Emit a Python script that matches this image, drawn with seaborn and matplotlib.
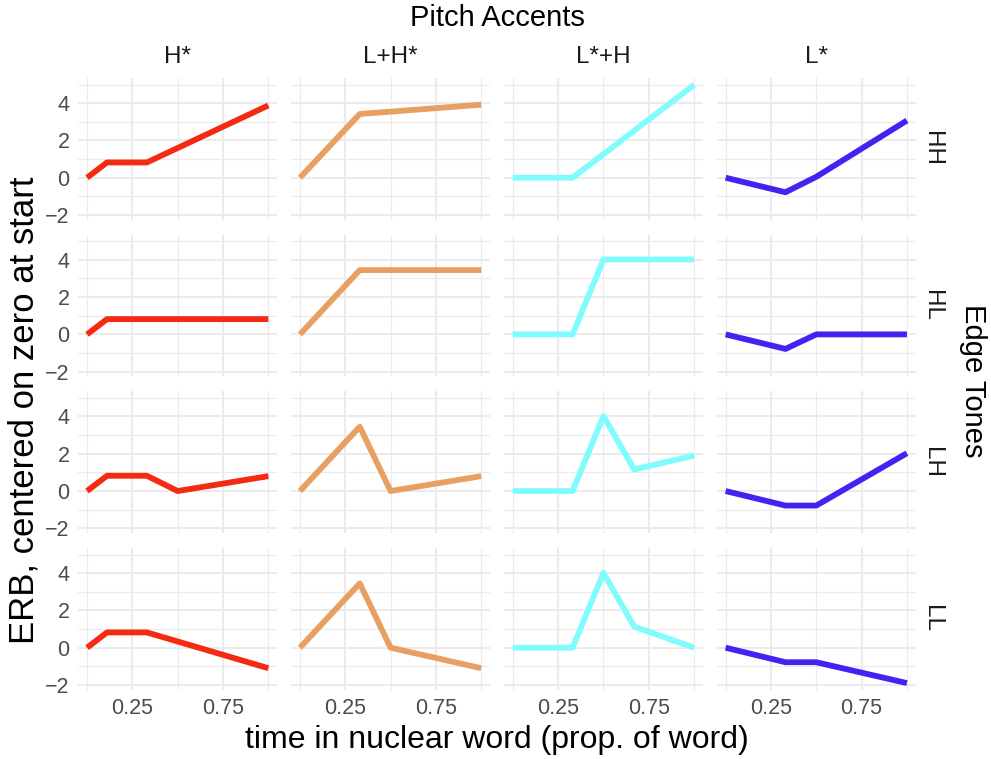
import numpy as np
import pandas as pd
import matplotlib
matplotlib.use("Agg")
import matplotlib.pyplot as plt
from matplotlib.ticker import FixedLocator
import seaborn as sns

# ---------------- data ----------------
accents = ["H*", "L+H*", "L*+H", "L*"]
edges = ["HH", "HL", "LH", "LL"]
accent_colors = ["#F52A12", "#E8A062", "#80FCFF", "#4622F2"]

x_labels = ["0.25", "0.75"]
x_major = [0.25, 0.75]
y_major = [-2, 0, 2, 4]

# time points and ERB values, per accent and edge tone
hstar_x = {"HH": [0.0, 0.11, 0.33, 1.0],
           "HL": [0.0, 0.11, 0.33, 1.0],
           "LH": [0.0, 0.11, 0.33, 0.5, 1.0],
           "LL": [0.0, 0.11, 0.33, 1.0]}
hstar_y = {"HH": [0.0, 0.82, 0.82, 3.88],
           "HL": [0.0, 0.82, 0.82, 0.82],
           "LH": [0.0, 0.82, 0.82, 0.0, 0.8],
           "LL": [0.0, 0.82, 0.82, -1.1]}

lhstar_x = {"HH": [0.0, 0.33, 1.0],
            "HL": [0.0, 0.33, 1.0],
            "LH": [0.0, 0.33, 0.5, 1.0],
            "LL": [0.0, 0.33, 0.5, 1.0]}
lhstar_y = {"HH": [0.0, 3.42, 3.92],
            "HL": [0.0, 3.45, 3.45],
            "LH": [0.0, 3.45, 0.0, 0.8],
            "LL": [0.0, 3.45, 0.0, -1.1]}

lstarh_x = {"HH": [0.0, 0.33, 1.0],
            "HL": [0.0, 0.33, 0.5, 1.0],
            "LH": [0.0, 0.33, 0.5, 0.67, 1.0],
            "LL": [0.0, 0.33, 0.5, 0.67, 1.0]}
lstarh_y = {"HH": [0.0, 0.0, 4.98],
            "HL": [0.0, 0.0, 4.02, 4.02],
            "LH": [0.0, 0.0, 4.02, 1.16, 1.9],
            "LL": [0.0, 0.0, 4.02, 1.13, 0.0]}

lstar_x = {"HH": [0.0, 0.33, 0.5, 1.0],
           "HL": [0.0, 0.33, 0.5, 1.0],
           "LH": [0.0, 0.33, 0.5, 1.0],
           "LL": [0.0, 0.33, 0.5, 1.0]}
lstar_y = {"HH": [0.0, -0.78, 0.05, 3.07],
           "HL": [0.0, -0.78, 0.0, 0.0],
           "LH": [0.0, -0.78, -0.78, 2.03],
           "LL": [0.0, -0.78, -0.78, -1.9]}

series_x = [hstar_x, lhstar_x, lstarh_x, lstar_x]
series_y = [hstar_y, lhstar_y, lstarh_y, lstar_y]

rows = []
for acc, xs, ys in zip(accents, series_x, series_y):
    for e in edges:
        for i, (xv, yv) in enumerate(zip(xs[e], ys[e])):
            rows.append({"accent": acc, "edge": e, "time": xv, "erb": yv, "order": i})
df = pd.DataFrame(rows)

# ---------------- plot ----------------
sns.set_theme(style="white")
plt.rcParams["font.family"] = ["Liberation Sans", "DejaVu Sans"]

g = sns.FacetGrid(df, row="edge", col="accent", row_order=edges, col_order=accents,
                  hue="accent", hue_order=accents, palette=accent_colors,
                  sharex=True, sharey=True, margin_titles=False, despine=False,
                  height=1.8, aspect=1.3)
g.map_dataframe(sns.lineplot, x="time", y="erb", sort=False, estimator=None,
                lw=4.2, solid_joinstyle="round", solid_capstyle="butt")

fig = g.figure
fig.set_size_inches(9.91, 7.59)
fig.subplots_adjust(left=0.0787, right=0.9243, top=0.8972, bottom=0.0914,
                    wspace=0.0675, hspace=0.106)

tick_col = "#4D4D4D"
for i, e in enumerate(edges):
    for j, a in enumerate(accents):
        ax = g.axes[i, j]
        ax.set_title("")
        ax.set_xlabel("")
        ax.set_ylabel("")
        ax.set_xlim(-0.05, 1.05)
        ax.set_ylim(-2.25, 5.35)
        ax.xaxis.set_major_locator(FixedLocator(x_major))
        ax.xaxis.set_minor_locator(FixedLocator([0.0, 0.5, 1.0]))
        ax.yaxis.set_major_locator(FixedLocator(y_major))
        ax.yaxis.set_minor_locator(FixedLocator([-1, 1, 3, 5]))
        ax.set_xticklabels(x_labels)
        ax.grid(which="major", color="#EBEBEB", lw=1.5)
        ax.grid(which="minor", color="#EBEBEB", lw=0.8)
        ax.set_axisbelow(True)
        for s in ax.spines.values():
            s.set_visible(False)
        ax.tick_params(which="both", length=0, labelsize=15.5, labelcolor=tick_col)
        ax.tick_params(axis="x", pad=6)
        ax.tick_params(axis="y", pad=6)
        if i < 3:
            ax.tick_params(labelbottom=False)
        if j > 0:
            ax.tick_params(labelleft=False)
        if i == 0:
            ax.text(0.5, 1.148, a, transform=ax.transAxes, ha="center", va="center",
                    fontsize=17.5, color="#1A1A1A")
        if j == 3:
            ax.text(1.08, 0.5, e, transform=ax.transAxes, ha="center", va="center",
                    rotation=-90, fontsize=17.5, color="#1A1A1A")

fig.text(0.502, 0.976, "Pitch Accents", ha="center", va="center", fontsize=21, color="black")
fig.text(0.501, 0.025, "time in nuclear word (prop. of word)", ha="center", va="center",
         fontsize=23, color="black")
fig.text(0.024, 0.46, "ERB, centered on zero at start", ha="center", va="center",
         rotation=90, fontsize=25, color="black")
fig.text(0.982, 0.498, "Edge Tones", ha="center", va="center",
         rotation=-90, fontsize=21, color="black")

fig.savefig("out.png", dpi=100, facecolor="white")
